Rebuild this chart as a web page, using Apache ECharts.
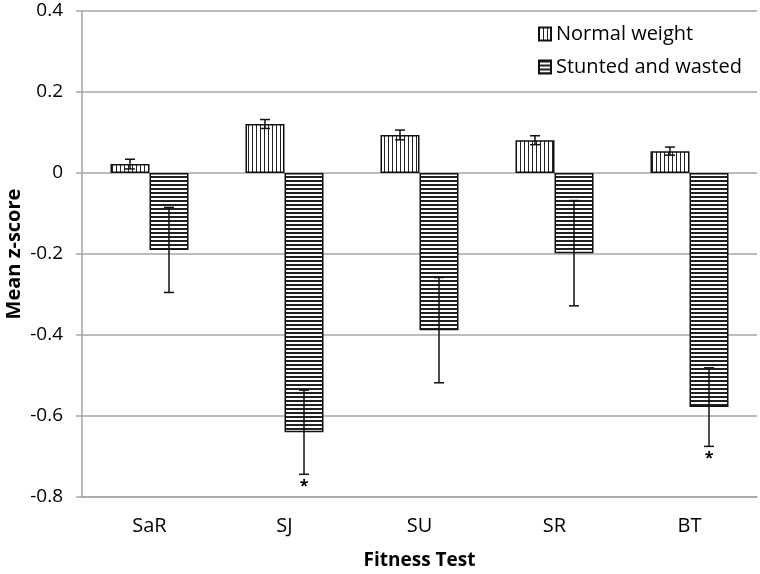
<!DOCTYPE html>
<html>
<head>
<meta charset="utf-8">
<script src="https://cdn.jsdelivr.net/npm/echarts@6/dist/echarts.min.js"></script>
<style>html,body{margin:0;padding:0;background:#fff}#c{width:760px;height:574px}</style>
</head>
<body>
<div id="c"></div>
<script>
const categories = ['SaR', 'SJ', 'SU', 'SR', 'BT'];
const normalWeight = [0.022, 0.121, 0.094, 0.081, 0.054];
const normalErr = [0.012, 0.011, 0.012, 0.011, 0.010];
const stuntedWasted = [-0.19, -0.64, -0.388, -0.198, -0.578];
const stuntedErr = [0.105, 0.104, 0.13, 0.13, 0.097];
const significance = ['', '*', '', '', '*'];
const seriesNames = ['Normal weight', 'Stunted and wasted'];

function makePattern(vertical) {
  const c = document.createElement('canvas');
  c.width = 4; c.height = 4;
  const g = c.getContext('2d');
  g.fillStyle = '#fff'; g.fillRect(0, 0, 4, 4);
  g.fillStyle = '#222';
  if (vertical) g.fillRect(0, 0, 1, 4); else g.fillRect(0, 0, 4, 2);
  return c;
}
const vPat = { image: makePattern(true), repeat: 'repeat' };
const hPat = { image: makePattern(false), repeat: 'repeat' };

const BAR_FRAC = 0.289;
const errData = [];
categories.forEach((c, i) => {
  errData.push([i, normalWeight[i], normalErr[i], -1, '']);
  errData.push([i, stuntedWasted[i], stuntedErr[i], 1, significance[i]]);
});

const chart = echarts.init(document.getElementById('c'), null, { renderer: 'canvas' });
const font = 'Open Sans';
chart.setOption({
  animation: false,
  textStyle: { fontFamily: font },
  grid: { left: 82, right: 3, top: 11, bottom: 77, containLabel: false, outerBoundsMode: 'none' },
  legend: {
    data: seriesNames.map(n => ({ name: n, icon: 'rect' })),
    orient: 'vertical',
    left: 533, top: 19,
    itemWidth: 12, itemHeight: 13, itemGap: 13,
    textStyle: { fontSize: 20, color: '#000', fontFamily: font },
    selectedMode: false
  },
  xAxis: {
    type: 'category',
    data: categories,
    name: 'Fitness Test',
    nameLocation: 'middle',
    nameGap: 54,
    nameMoveOverlap: false,
    nameTextStyle: { fontSize: 19, fontWeight: 'bold', color: '#000', fontFamily: font },
    axisLine: { onZero: false, lineStyle: { color: '#a6a6a6', width: 1.5 } },
    axisTick: { show: false },
    axisLabel: { fontSize: 20, color: '#000', margin: 19 },
    splitLine: { show: false }
  },
  yAxis: {
    type: 'value',
    min: -0.8, max: 0.4, interval: 0.2,
    name: 'Mean z-score',
    nameLocation: 'middle',
    nameGap: 58,
    nameMoveOverlap: false,
    nameRotate: 90,
    nameTextStyle: { fontSize: 20, fontWeight: 'bold', color: '#000', fontFamily: font },
    axisLine: { show: true, lineStyle: { color: '#a6a6a6', width: 1.5 } },
    axisTick: { show: true, inside: false, length: 6, lineStyle: { color: '#a6a6a6', width: 1.5 } },
    axisLabel: { fontSize: 19, color: '#000', margin: 19, formatter: v => String(+v.toFixed(1)) },
    splitLine: { show: true, lineStyle: { color: '#a6a6a6', width: 1.5 } }
  },
  series: [
    {
      name: seriesNames[0], type: 'bar', data: normalWeight,
      barWidth: (BAR_FRAC * 100) + '%', barGap: '0%',
      itemStyle: { color: vPat, borderColor: '#111', borderWidth: 1.5 }
    },
    {
      name: seriesNames[1], type: 'bar', data: stuntedWasted,
      barWidth: (BAR_FRAC * 100) + '%', barGap: '0%',
      itemStyle: { color: hPat, borderColor: '#111', borderWidth: 1.5 }
    },
    {
      type: 'custom', name: 'err', z: 10,
      data: errData,
      renderItem: function (params, api) {
        const idx = api.value(0), val = api.value(1), err = api.value(2), side = api.value(3);
        const sig = errData[params.dataIndex][4];
        const bw = api.size([1, 0])[0] * BAR_FRAC;
        const ctr = api.coord([idx, val]);
        const x = ctr[0] + side * bw / 2;
        const yt = api.coord([idx, val + err])[1];
        const yb = api.coord([idx, val - err])[1];
        const cap = 5;
        const st = { stroke: '#111', lineWidth: 1.5 };
        const children = [
          { type: 'line', shape: { x1: x, y1: yt, x2: x, y2: yb }, style: st },
          { type: 'line', shape: { x1: x - cap, y1: yt, x2: x + cap, y2: yt }, style: st },
          { type: 'line', shape: { x1: x - cap, y1: yb, x2: x + cap, y2: yb }, style: st }
        ];
        if (sig) {
          children.push({ type: 'text', style: { text: sig, x: x, y: yb + 4, textAlign: 'center', textVerticalAlign: 'top', font: 'bold 16px ' + font, fill: '#000' } });
        }
        return { type: 'group', children: children };
      }
    }
  ]
});
</script>
</body>
</html>
